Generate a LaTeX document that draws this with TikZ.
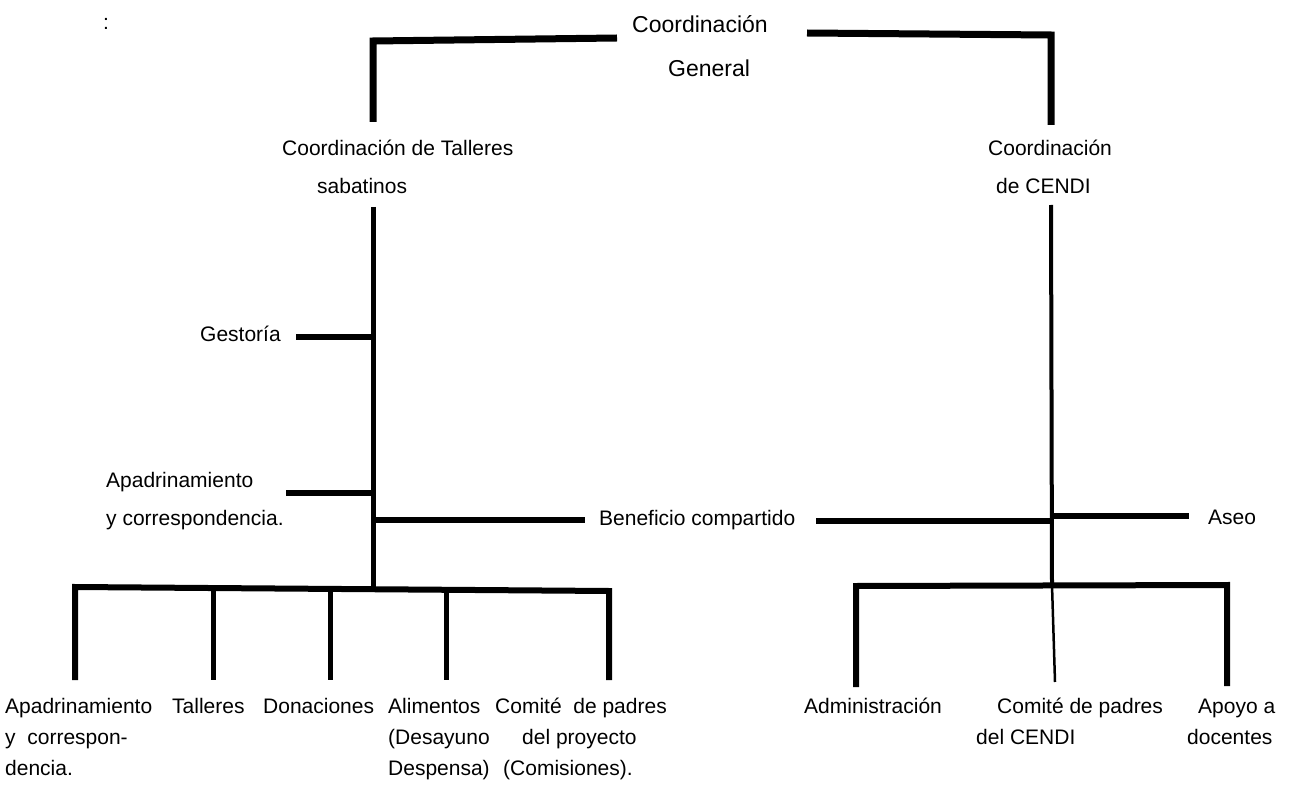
\documentclass[tikz,border=0pt]{standalone}
\usepackage{fontspec}
\setmainfont{Liberation Sans}

\begin{document}
\begin{tikzpicture}[
    x=1pt, y=-1pt,
    lbl/.style={inner sep=0pt, anchor=north west, align=left, font=\fontsize{21}{38}\selectfont},
    leaf/.style={lbl, font=\fontsize{21}{31}\selectfont},
    ttl/.style={lbl, font=\fontsize{23}{44}\selectfont},
    bar/.style={line width=7pt, line join=miter},
    stem/.style={line width=5pt},
    twig/.style={line width=6pt}
]
\path[use as bounding box, fill=white] (0,0) rectangle (1290,786);

% labels
\node[inner sep=0pt, font=\fontsize{21}{25}\selectfont] (dots) at (106,24) {:};
\node[ttl] (gen) at (632,2) {\strut Coordinación\\\hspace*{36pt}General};
\node[lbl] (talleres) at (282,129) {\strut Coordinación de Talleres\\\hspace*{35pt}sabatinos};
\node[lbl] (cendi) at (988,129) {\strut Coordinación\\\hspace*{8pt}de CENDI};
\node[lbl] (gest) at (200,315) {\strut Gestoría};
\node[lbl] (apad) at (106,461) {\strut Apadrinamiento\\y correspondencia.};
\node[lbl] (benef) at (599,499) {\strut Beneficio compartido};
\node[lbl] (aseo) at (1208,498) {\strut Aseo};

\node[leaf] (apad2) at (5,692) {\strut Apadrinamiento\\y\ \ correspon-\\dencia.};
\node[leaf] (tall) at (172,692) {\strut Talleres};
\node[leaf] (don) at (263,692) {\strut Donaciones};
\node[leaf] (alim) at (388,692) {\strut Alimentos\\(Desayuno\\Despensa)};
\node[leaf] (comite) at (495,692) {\strut Comité\ \ de padres\\\hspace*{27pt}del proyecto\\\hspace*{8pt}(Comisiones).};
\node[leaf] (admin) at (804,692) {\strut Administración};
\node[leaf] (comcendi) at (976,692) {\strut\hspace*{21pt}Comité de padres\\del CENDI};
\node[leaf] (apoyo) at (1187,692) {\strut\hspace*{11pt}Apoyo a\\docentes};

% top brackets
\coordinate (gl) at (617,38);
\coordinate (glc) at (373,41);
\coordinate (lt) at (373,122);
\coordinate (gr) at (807,33);
\coordinate (grc) at (1051,35);
\coordinate (rt) at (1051,125);
\draw[bar] (gl) -- (glc) -- (lt);
\draw[bar] (gr) -- (grc) -- (rt);

% left branch
\coordinate (ls) at (373,207);
\coordinate (lbus) at (373,588);
\draw[stem] (ls) -- (lbus);
\coordinate (gt) at (296,337);
\coordinate (at) at (286,493);
\coordinate (bl) at (585,520);
\draw[twig] (gt) -- (gt -| ls);
\draw[twig] (at) -- (at -| ls);
\draw[twig] (bl -| ls) -- (bl);

% right branch
\coordinate (rs) at (1051,205);
\coordinate (rbus) at (1052,585);
\draw[stem, line width=4pt] (rs) -- (rbus);
\coordinate (br) at (816,521);
\coordinate (ar) at (1189,516);
\draw[twig] (br) -- (br -| rs);
\draw[twig] (ar -| rs) -- (ar);

% left bus
\coordinate (lbw) at (75,587);
\coordinate (lbe) at (609,591);
\coordinate (lb1) at (75,680);
\coordinate (lb2) at (213,680);
\coordinate (lb3) at (330,680);
\coordinate (lb4) at (446,680);
\coordinate (lb5) at (609,680);
\draw[bar, line width=6pt] (lb1) -- (lbw) -- (lbe) -- (lb5);
\draw[stem] (lb2 |- lbus) -- (lb2);
\draw[stem] (lb3 |- lbus) -- (lb3);
\draw[stem] (lb4 |- lbus) -- (lb4);

% right bus
\coordinate (rbw) at (856,586);
\coordinate (rbe) at (1227,585);
\coordinate (rb1) at (856,687);
\coordinate (rb2) at (1055,682);
\coordinate (rb3) at (1227,686);
\draw[bar, line width=6pt] (rb1) -- (rbw) -- (rbe) -- (rb3);
\draw[line width=2.5pt] (rbus) -- (rb2);
\end{tikzpicture}
\end{document}
